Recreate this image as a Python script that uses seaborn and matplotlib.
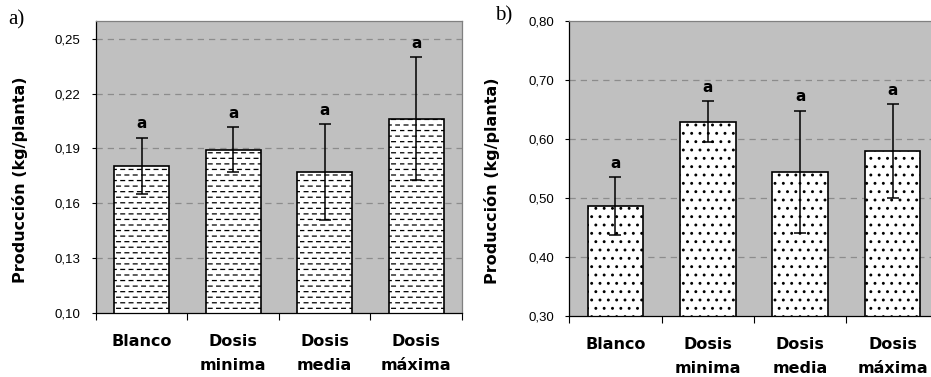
import numpy as np
import matplotlib
matplotlib.use("Agg")
import matplotlib.pyplot as plt
import matplotlib.hatch as mhatch
from matplotlib.path import Path
from matplotlib.ticker import FixedLocator
import seaborn as sns

# Data
categorias = ["Blanco", "Dosis\nminima", "Dosis\nmedia", "Dosis\nmáxima"]
prod_a = [0.1805, 0.1892, 0.1770, 0.2064]
err_a = [0.0154, 0.0123, 0.0262, 0.0338]
letras_a = ["a", "a", "a", "a"]
prod_b = [0.486, 0.629, 0.544, 0.579]
err_b = [0.049, 0.035, 0.1035, 0.080]
letras_b = ["a", "a", "a", "a"]
yticks_a = [0.10, 0.13, 0.16, 0.19, 0.22, 0.25]
yticks_b = [0.30, 0.40, 0.50, 0.60, 0.70, 0.80]


class DashRows(mhatch.HatchPatternBase):
    """Rows of short dashes, every other row shifted (replaces '-' hatch)."""
    def __init__(self, hatch, density):
        self.num_rows = int(hatch.count('-') * density)
        self.per_row = self.num_rows * 2 // 3
        self.num_vertices = self.num_rows * self.per_row * 2

    def set_vertices_and_codes(self, vertices, codes):
        period = 1.0 / self.per_row
        k = 0
        for i in range(self.num_rows):
            y = (i + 0.5) / self.num_rows
            shift = (i % 2) * period / 2
            for j in range(self.per_row):
                x0 = j * period + shift
                vertices[k] = (x0, y)
                vertices[k + 1] = (x0 + period * 0.45, y)
                codes[k] = Path.MOVETO
                codes[k + 1] = Path.LINETO
                k += 2


mhatch._hatch_types[0] = DashRows

plt.rcParams['hatch.linewidth'] = 0.9
TICK_FONT = "Liberation Sans"
BOLD_FONT = "DejaVu Sans"

fig = plt.figure(figsize=(9.31, 3.77), dpi=100)
ax_a = fig.add_axes([0.1031, 0.1706, 0.3931, 0.7745])
ax_b = fig.add_axes([0.6115, 0.1626, 0.3968, 0.7825])


def draw_panel(ax, valores, errores, letras, yticks, hatch, ylim, label_xy):
    ax.set_facecolor("#c0c0c0")
    sns.barplot(x=categorias, y=valores, color="white", saturation=1,
                edgecolor="black", linewidth=1.2, width=0.6, errorbar=None, ax=ax)
    for bar in ax.patches:
        bar.set_hatch(hatch)
        bar.set_zorder(2)
    ax.errorbar(range(len(valores)), valores, yerr=errores, fmt="none",
                ecolor="black", elinewidth=1.1, capsize=4, capthick=1.1, zorder=3)
    for i, (v, e, t) in enumerate(zip(valores, errores, letras)):
        ax.annotate(t, (i, v + e), xytext=(0, 4.5), textcoords="offset points",
                    ha="center", va="bottom", fontsize=11, fontweight="bold",
                    family=BOLD_FONT)

    # Grid lines (dashed) behind bars
    for yv in yticks[1:]:
        if yv < ylim[1] - 1e-9:
            ax.axhline(yv, color="#8c8c8c", lw=0.9, ls=(0, (5, 4)), zorder=1)

    ax.set_xlim(-0.5, len(valores) - 0.5)
    ax.set_ylim(*ylim)
    ax.set_yticks(yticks)
    ax.set_yticklabels([f"{v:.2f}".replace(".", ",") for v in yticks],
                       family=TICK_FONT, fontsize=9.5)
    ax.tick_params(axis="y", length=3, width=0.8, pad=8)
    ax.set_xticks(range(len(valores)))
    ax.set_xticklabels(categorias, family=BOLD_FONT, fontsize=11.5, fontweight="bold",
                       linespacing=1.8)
    ax.tick_params(axis="x", which="major", length=0, pad=15)
    ax.xaxis.set_minor_locator(FixedLocator(np.arange(-0.5, len(valores), 1.0)))
    ax.tick_params(axis="x", which="minor", length=5, width=0.8, direction="out")

    ax.set_xlabel("")
    ax.set_ylabel("Producción (kg/planta)", family=BOLD_FONT, fontsize=11.5,
                  fontweight="bold")
    ax.yaxis.set_label_coords(*label_xy)

    for side in ["left", "bottom"]:
        ax.spines[side].set_color("black")
        ax.spines[side].set_linewidth(0.9)
    for side in ["top", "right"]:
        ax.spines[side].set_color("#808080")
        ax.spines[side].set_linewidth(0.9)


draw_panel(ax_a, prod_a, err_a, letras_a, yticks_a, "---", (0.10, 0.26), (-0.186, 0.455))
draw_panel(ax_b, prod_b, err_b, letras_b, yticks_b, "..", (0.30, 0.80), (-0.188, 0.457))

fig.text(8 / 931, 1 - 20 / 377, "a)", family="Liberation Serif", fontsize=15,
         ha="left", va="center")
fig.text(495 / 931, 1 - 16 / 377, "b)", family="Liberation Serif", fontsize=15,
         ha="left", va="center")

fig.savefig("out.png", dpi=100)
